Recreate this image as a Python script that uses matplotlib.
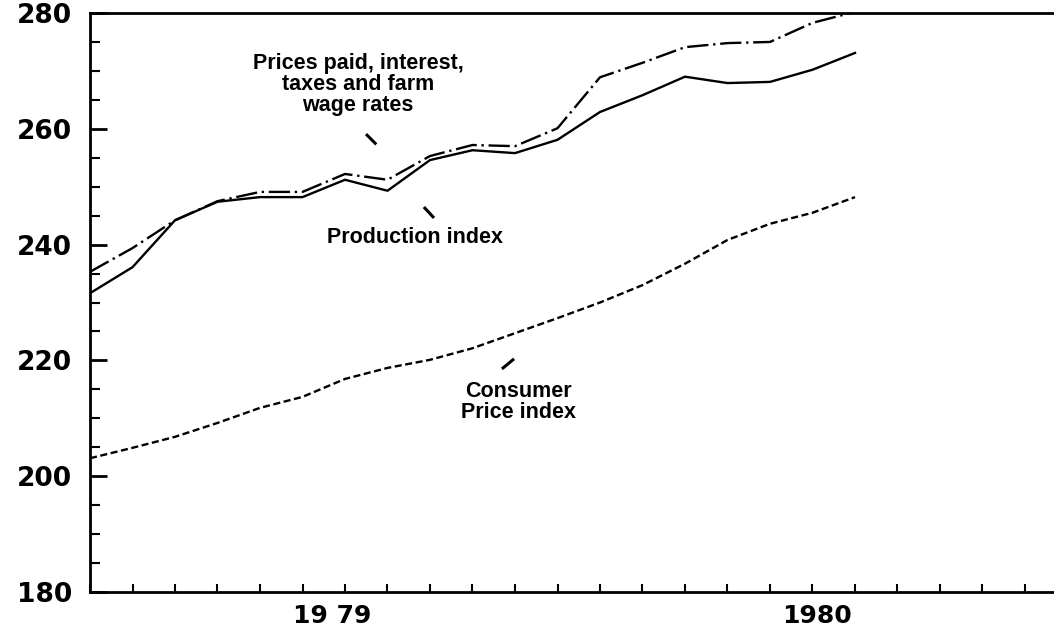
import matplotlib
matplotlib.use("Agg")
import matplotlib.pyplot as plt
from matplotlib.ticker import MultipleLocator

# Monthly index values (month 0 = first month on the axis)
months = list(range(19))
prices_paid = [235.3, 239.4, 244.2, 247.5, 249.1, 249.1, 252.2, 251.2, 255.3, 257.2,
               257.0, 260.1, 268.9, 271.4, 274.1, 274.8, 275.0, 278.3, 280.2]
production = [231.6, 236.1, 244.2, 247.4, 248.2, 248.2, 251.2, 249.3, 254.6, 256.3,
              255.8, 258.1, 262.9, 265.8, 269.0, 267.9, 268.1, 270.2, 273.1]
cpi = [203.1, 204.9, 206.8, 209.2, 211.8, 213.7, 216.8, 218.7, 220.1, 222.1,
       224.7, 227.3, 230.0, 233.0, 236.7, 240.8, 243.6, 245.5, 248.2]

year_labels = ["19 79", "1980"]
year_pos = [5.7, 17.1]
y_ticks = [180, 200, 220, 240, 260, 280]

label_font = ["Liberation Sans", "DejaVu Sans"]

fig = plt.figure(figsize=(10.54, 6.35), dpi=100)
ax = fig.add_axes([90 / 1054, 43 / 635, 964 / 1054, 579 / 635])

ax.plot(months, prices_paid, color="black", lw=1.7, dashes=(9, 2, 1, 2))
ax.plot(months, production, color="black", lw=1.7)
ax.plot(months, cpi, color="black", lw=1.7, dashes=(3, 1.5))

ax.set_xlim(0, 964 / 42.5)
ax.set_ylim(180, 280)

ax.yaxis.set_minor_locator(MultipleLocator(5))
ax.xaxis.set_major_locator(MultipleLocator(1))
ax.set_yticks(y_ticks)
ax.set_yticklabels([str(v) for v in y_ticks], fontsize=19, fontweight="heavy")
ax.tick_params(axis="y", which="major", direction="in", length=12, width=2, pad=13)
ax.tick_params(axis="y", which="minor", direction="in", length=7, width=1.5)
ax.tick_params(axis="x", which="major", direction="in", length=6, width=1.5,
               labelbottom=False)

for s in ["left", "bottom", "top"]:
    ax.spines[s].set_linewidth(2)
ax.spines["right"].set_visible(False)

trans = ax.get_xaxis_transform()
for x, lab in zip(year_pos, year_labels):
    ax.text(x, -24 / 579, lab, transform=trans, ha="center", va="center",
            fontsize=18, fontweight="heavy")

# Series labels with small leader marks
ax.text(6.31, 267.6, "Prices paid, interest,\ntaxes and farm\nwage rates",
        ha="center", va="center", fontsize=15.5, fontweight="bold",
        family=label_font, linespacing=1.0)
ax.plot([6.52, 6.71], [258.9, 257.5], color="black", lw=2.2)

ax.text(7.65, 241.3, "Production index", ha="center", va="center",
        fontsize=15.5, fontweight="bold", family=label_font)
ax.plot([7.88, 8.07], [246.3, 244.8], color="black", lw=2.2)

ax.text(10.09, 212.9, "Consumer\nPrice index", ha="center", va="center",
        fontsize=15.5, fontweight="bold", family=label_font, linespacing=1.0)
ax.plot([9.72, 9.95], [218.7, 220.1], color="black", lw=2.2)

fig.savefig("out.png", dpi=100)
